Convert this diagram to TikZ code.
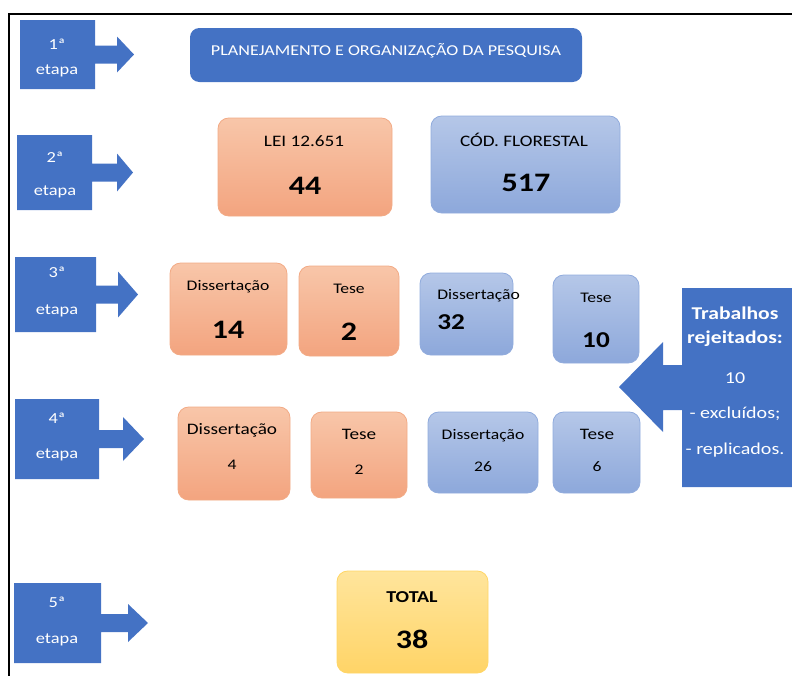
\documentclass[tikz,border=0pt]{standalone}
\usepackage{fontspec}
\setmainfont[FakeStretch=1.2]{Carlito}
\definecolor{bl}{HTML}{4472C4}
\definecolor{otop}{HTML}{F8C6A9}
\definecolor{obot}{HTML}{F3A47F}
\definecolor{odraw}{HTML}{F2AB86}
\definecolor{btop}{HTML}{B5C7E8}
\definecolor{bbot}{HTML}{8DA8DB}
\definecolor{bdraw}{HTML}{91ACDD}
\definecolor{ytop}{HTML}{FFE59C}
\definecolor{ybot}{HTML}{FFD467}
\definecolor{ydraw}{HTML}{FFD666}
\newcommand\bx[6]{\node[#2, inner sep=0pt, minimum width={(#5-#3)*0.75pt}, minimum height={(#6-#4)*0.75pt}] (#1) at ({(#3+#5)/2},{(#4+#6)/2}) {};}
% right-arrow callout: name, x1,y1,x2,y2, head x, tip x, head half height
\newcommand\callR[8]{%
  \fill[bl] (#2,#3) -- (#4,#3) -- (#4,{(#3+#5)/2-9}) -- (#6,{(#3+#5)/2-9}) -- (#6,{(#3+#5)/2-#8}) -- (#7,{(#3+#5)/2}) -- (#6,{(#3+#5)/2+#8}) -- (#6,{(#3+#5)/2+9}) -- (#4,{(#3+#5)/2+9}) -- (#4,#5) -- (#2,#5) -- cycle;
  \coordinate (#1) at ({(#2+#4)/2},{(#3+#5)/2});}
\tikzset{
  t/.style={font=\fontsize{11}{13}\selectfont, inner sep=0pt},
  tf/.style={font=\fontsize{12}{14}\selectfont, inner sep=0pt},
  tw/.style={font=\fontsize{11.5}{13}\selectfont, inner sep=0pt, text=white},
  big/.style={font=\fontsize{20}{24}\selectfont\bfseries, inner sep=0pt},
  mid/.style={font=\fontsize{17}{20}\selectfont\bfseries, inner sep=0pt},
  obox/.style={rectangle, rounded corners=8pt, top color=otop, bottom color=obot, draw=odraw, line width=0.6pt},
  bbox/.style={rectangle, rounded corners=8pt, top color=btop, bottom color=bbot, draw=bdraw, line width=0.6pt},
  ybox/.style={rectangle, rounded corners=8pt, top color=ytop, bottom color=ybot, draw=ydraw, line width=0.6pt},
  plbox/.style={rectangle, rounded corners=7pt, fill=bl},
}
\begin{document}
\begin{tikzpicture}[x=0.75pt,y=-0.75pt]
\useasboundingbox (0,0) rectangle (792,675);
\clip (0,0) rectangle (792,675);
% frame
\draw[line width=1.5pt] (9,680) -- (9,14) -- (800,14);

% stage callouts
\callR{e1}{20}{20}{95}{89}{117}{134}{18}
\callR{e2}{17}{135}{92}{210}{117}{133}{19}
\callR{e3}{15}{257}{96}{332}{118}{138}{23}
\callR{e4}{15}{399}{99}{479}{123}{144}{22}
\callR{e5}{14}{583}{101}{663}{128}{148}{19}
\node[tw] (e1a) at (57,44) {1ª};
\node[tw] (e1b) at (57,71) {etapa};
\node[tw] (e2a) at (55,157) {2ª};
\node[tw] (e2b) at (55,192) {etapa};
\node[tw] (e3a) at (57,272) {3ª};
\node[tw] (e3b) at (57,311) {etapa};
\node[tw] (e4a) at (57,418) {4ª};
\node[tw] (e4b) at (57,455) {etapa};
\node[tw] (e5a) at (57,602) {5ª};
\node[tw] (e5b) at (57,640) {etapa};

% rejected callout (left arrow)
\fill[bl] (682,288) -- (800,288) -- (800,487) -- (682,487) -- (682,410) -- (663,410) -- (663,432) -- (619,387) -- (663,342) -- (663,365) -- (682,365) -- cycle;
\coordinate (rej) at (736,387);
\node[tw, font=\fontsize{13.5}{16}\selectfont\bfseries] (rj1) at (735,313) {Trabalhos};
\node[tw, font=\fontsize{13.5}{16}\selectfont\bfseries] (rj2) at (735,339) {rejeitados:};
\node[tw, font=\fontsize{12.5}{15}\selectfont] (rj3) at (735,378) {10};
\node[tw, font=\fontsize{12.5}{15}\selectfont] (rj4) at (735,414) {- excluídos;};
\node[tw, font=\fontsize{12.5}{15}\selectfont] (rj5) at (735,450) {- replicados.};

% stage 1
\bx{plan}{plbox}{190}{28}{582}{82}
\node[tw, font=\fontsize{11.3}{13}\selectfont] (plant) at (386,51) {PLANEJAMENTO E ORGANIZAÇÃO DA PESQUISA};

% stage 2
\bx{lei}{obox}{218}{118}{392}{216}
\node[tf] (leia) at (304,141) {LEI 12.651};
\node[big] (leib) at (305,186) {44};
\bx{cod}{bbox}{431}{116}{620}{213}
\node[tf] (coda) at (524,140) {CÓD. FLORESTAL};
\node[big] (codb) at (526,183) {517};

% stage 3
\bx{d14}{obox}{170}{263}{287}{355}
\node[t] (d14a) at (228,287) {Dissertação};
\node[big] (d14b) at (228,330) {14};
\bx{t2}{obox}{299}{266}{399}{356}
\node[t] (t2a) at (349,289) {Tese};
\node[big] (t2b) at (349,332) {2};
\bx{d32}{bbox}{420}{273}{513}{355}
\node[t, anchor=west] (d32a) at (437,296) {Dissertação};
\node[mid, anchor=west] (d32b) at (437,322) {32};
\bx{t10}{bbox}{553}{275}{639}{363}
\node[t] (t10a) at (596,298) {Tese};
\node[mid] (t10b) at (596,340) {10};

% stage 4
\bx{d4}{obox}{178}{407}{290}{500}
\node[tf] (d4a) at (232,430) {Dissertação};
\node[t] (d4b) at (232,465) {4};
\bx{t2c}{obox}{311}{412}{407}{498}
\node[tf] (t2ca) at (359,434) {Tese};
\node[t] (t2cb) at (359,470) {2};
\bx{d26}{bbox}{428}{412}{538}{493}
\node[t] (d26a) at (483,436) {Dissertação};
\node[t] (d26b) at (483,467) {26};
\bx{t6}{bbox}{553}{412}{640}{493}
\node[tf] (t6a) at (597,434) {Tese};
\node[t] (t6b) at (597,467) {6};

% stage 5
\bx{tot}{ybox}{337}{571}{488}{673}
\node[font=\fontsize{12.5}{14}\selectfont\bfseries, inner sep=0pt] (tota) at (412,597) {TOTAL};
\node[big] (totb) at (412,639) {38};
\end{tikzpicture}
\end{document}
